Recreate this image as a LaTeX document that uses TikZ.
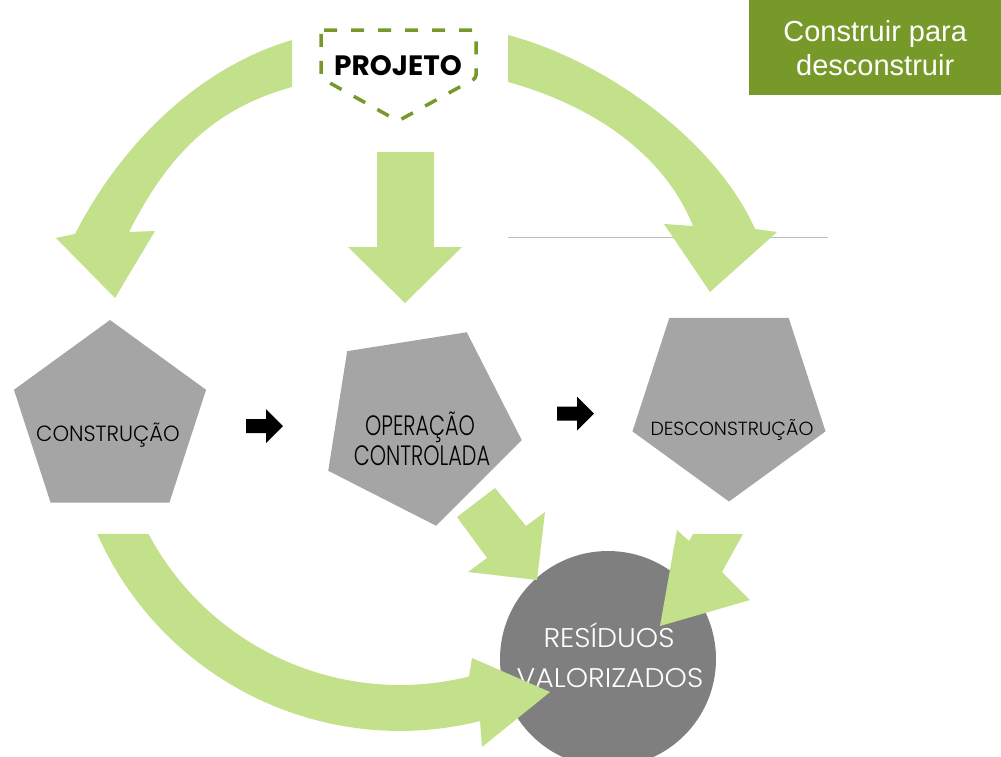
\documentclass[tikz,border=0pt]{standalone}
\usepackage{fontspec}
\setmainfont{Poppins}[UprightFont={* Light}, BoldFont={* Bold}]
\newfontfamily\boxfont{Liberation Sans}
\usetikzlibrary{shapes.geometric}
\definecolor{leaf}{RGB}{195,224,139}
\definecolor{olive}{RGB}{118,153,42}
\definecolor{stone}{RGB}{165,165,165}
\definecolor{slate}{RGB}{127,127,127}
\definecolor{hairline}{RGB}{191,191,191}
\tikzstyle{phase}=[regular polygon,regular polygon sides=5,fill=stone,inner sep=0pt,minimum size=203pt]
\tikzstyle{phasetext}=[anchor=base,inner sep=0pt,text=black]
\tikzstyle{wastetext}=[anchor=base,inner sep=0pt,text=white,xscale=1.05,font=\fontsize{27}{32}\selectfont]
\tikzstyle{bigarrow}=[fill=leaf]

\begin{document}
\begin{tikzpicture}[x=1pt, y=-1pt]
\useasboundingbox (0, 0) rectangle (1001, 756);
\draw[hairline, line width=1pt] (508, 237) -- (828, 237);
\node[fill=olive, minimum width=252pt, minimum height=95pt, anchor=north west, text=white, align=center, font=\boxfont\fontsize{29}{34}\selectfont] at (749, 0) (motto) {Construir para\\desconstruir};
\draw[olive, line width=3.5pt, dash pattern=on 13pt off 14pt, rounded corners=3pt] (321, 30) -- (476, 30) -- (476, 78) -- (398, 121) -- (321, 78) -- cycle;
\node[anchor=base, inner sep=0pt, font=\fontsize{28}{32}\selectfont\bfseries] at (398, 75) (projeto) {PROJETO};
\node[phase, minimum size=202pt] at (110, 421) (construcao) {};
\node[phase, minimum size=206pt, rotate=-27] at (420, 424) (operacao) {};
\node[phase, minimum size=203pt, rotate=180] at (729, 400) (desconstrucao) {};
\node[phasetext, xscale=0.96, font=\fontsize{22}{26}\selectfont] at (108, 441) (constext) {CONSTRUÇÃO};
\node[phasetext, xscale=0.74, font=\fontsize{28}{33}\selectfont] at (420, 435) (opertext) {OPERAÇÃO};
\node[phasetext, xscale=0.74, font=\fontsize{28}{33}\selectfont] at (422, 465) (ctrltext) {CONTROLADA};
\node[phasetext, xscale=1.0, font=\fontsize{19}{23}\selectfont] at (732, 435) (desctext) {DESCONSTRUÇÃO};
\node[circle, fill=slate, minimum size=216pt, inner sep=0pt] at (608, 659) (residuos) {};
\node[wastetext] at (609, 647) (restext) {RESÍDUOS};
\node[wastetext] at (610, 687) (valtext) {VALORIZADOS};
\foreach \x/\y in {246/426, 557/413.5}
  \fill (\x, \y) ++(0, -7) -- ++(20, 0) -- ++(0, -10) -- ++(17, 17) -- ++(-17, 17) -- ++(0, -10) -- ++(-20, 0) -- cycle;
\fill[bigarrow] (292, 40) .. controls (197, 68) and (120, 146) .. (75, 234) -- (56, 238) -- (115, 298) -- (155, 231) -- (129, 232) .. controls (167, 157) and (212, 109) .. (292, 87) -- cycle;
\fill[bigarrow] (508, 35) .. controls (603, 60) and (715, 139) .. (755, 229) -- (777, 232) -- (710, 292) -- (664, 224) -- (693, 226) .. controls (663, 151) and (588, 104) .. (508, 82) -- cycle;
\fill[bigarrow] (377, 152) -- (434, 152) -- (434, 247) -- (462, 247) -- (405, 303) -- (348, 247) -- (377, 247) -- cycle;
\fill[bigarrow] (97.3, 534) arc[start angle=156.1, end angle=76, radius=331] -- (482, 747) -- (550, 692) -- (472, 658) -- (469, 676.5) arc[start angle=76, end angle=152, radius=285] -- cycle;
\fill[bigarrow] (457, 517) -- (495, 488) -- (526, 526) -- (545, 512) -- (537, 580) -- (468, 572) -- (487, 558) -- cycle;
\fill[bigarrow] (677, 530) -- (689, 541) -- (693, 534) -- (743, 534) -- (722, 572) -- (750, 600) -- (660, 626) -- cycle;
\end{tikzpicture}
\end{document}
